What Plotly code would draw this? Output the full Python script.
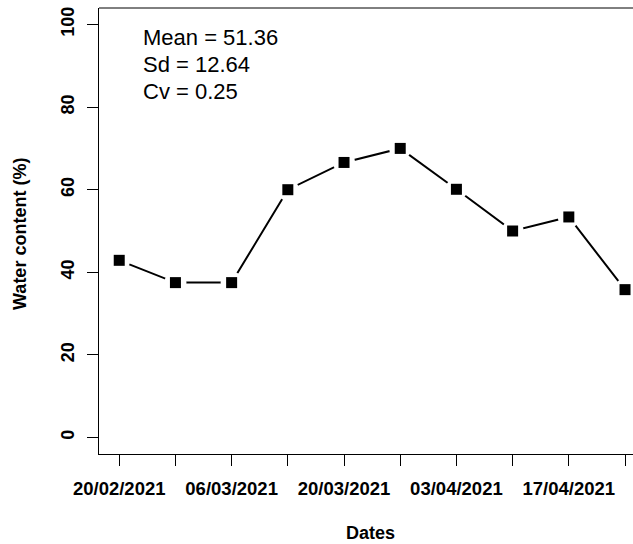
import pandas as pd
import plotly.graph_objects as go

# Weekly sampling dates and measured water content (%)
dates = ["2021-02-20", "2021-02-27", "2021-03-06", "2021-03-13", "2021-03-20",
         "2021-03-27", "2021-04-03", "2021-04-10", "2021-04-17", "2021-04-24"]
water = [42.9, 37.5, 37.5, 60.0, 66.6, 70.0, 60.1, 50.0, 53.4, 35.8]
tick_labels = ["20/02/2021", "", "06/03/2021", "", "20/03/2021",
               "", "03/04/2021", "", "17/04/2021", ""]
y_ticks = [0, 20, 40, 60, 80, 100]
stats_lines = ["Mean = 51.36", "Sd = 12.64", "Cv = 0.25"]

x = pd.to_datetime(dates)
week = pd.Timedelta(days=7)
x_range = [x[0] - 0.36 * week, x[0] + 9.142 * week]

FONT = "Liberation Sans, Arial, sans-serif"

fig = go.Figure()
# connecting line
fig.add_trace(go.Scatter(x=x, y=water, mode="lines",
                         line=dict(color="black", width=2),
                         hoverinfo="skip", showlegend=False))
# white halo so the line stops short of each point (type="b" look)
fig.add_trace(go.Scatter(x=x, y=water, mode="markers",
                         marker=dict(symbol="circle", size=22, color="white",
                                     line=dict(width=0)),
                         hoverinfo="skip", showlegend=False))
# filled square points
fig.add_trace(go.Scatter(x=x, y=water, mode="markers",
                         marker=dict(symbol="square", size=11, color="black",
                                     line=dict(width=0)),
                         showlegend=False))

fig.update_layout(
    width=633, height=544,
    margin=dict(l=99, r=0, t=8, b=90),
    paper_bgcolor="white", plot_bgcolor="white",
    font=dict(family=FONT, color="black"),
    xaxis=dict(
        type="date", range=x_range,
        tickmode="array", tickvals=x, ticktext=tick_labels,
        ticks="outside", ticklen=11, tickwidth=1, tickcolor="black",
        ticklabelstandoff=7,
        showline=True, linecolor="black", linewidth=1,
        showgrid=False, zeroline=False,
        tickfont=dict(family=FONT, size=18.5, color="black", weight="bold"),
    ),
    yaxis=dict(
        range=[-4, 104],
        tickmode="array", tickvals=y_ticks,
        ticktext=[str(v) for v in y_ticks],
        tickangle=-90,
        ticks="outside", ticklen=11, tickwidth=1, tickcolor="black",
        ticklabelstandoff=6,
        showline=True, linecolor="black", linewidth=1,
        showgrid=False, zeroline=False,
        tickfont=dict(family=FONT, size=18, color="black", weight="bold"),
    ),
)

# top border of the box
fig.add_shape(type="line", xref="paper", yref="paper", x0=0, x1=1, y0=1, y1=1,
              line=dict(color="black", width=1))

# summary statistics
for i, line in enumerate(stats_lines):
    fig.add_annotation(text=line, xref="paper", yref="paper",
                       x=0.078, y=0.933 - i * 0.0605,
                       xanchor="left", yanchor="middle", showarrow=False,
                       font=dict(family=FONT, size=22, color="black"))

# axis titles
fig.add_annotation(text="<b>Dates</b>", xref="paper", yref="paper",
                   x=0.509, y=-0.1775, xanchor="center", yanchor="middle",
                   showarrow=False, font=dict(family=FONT, size=18, color="black"))
fig.add_annotation(text="<b>Water content (%)</b>", xref="paper", yref="paper",
                   x=-0.148, y=0.4933, xanchor="center", yanchor="middle",
                   textangle=-90, showarrow=False,
                   font=dict(family=FONT, size=18, color="black"))

fig.write_html("out.html")
